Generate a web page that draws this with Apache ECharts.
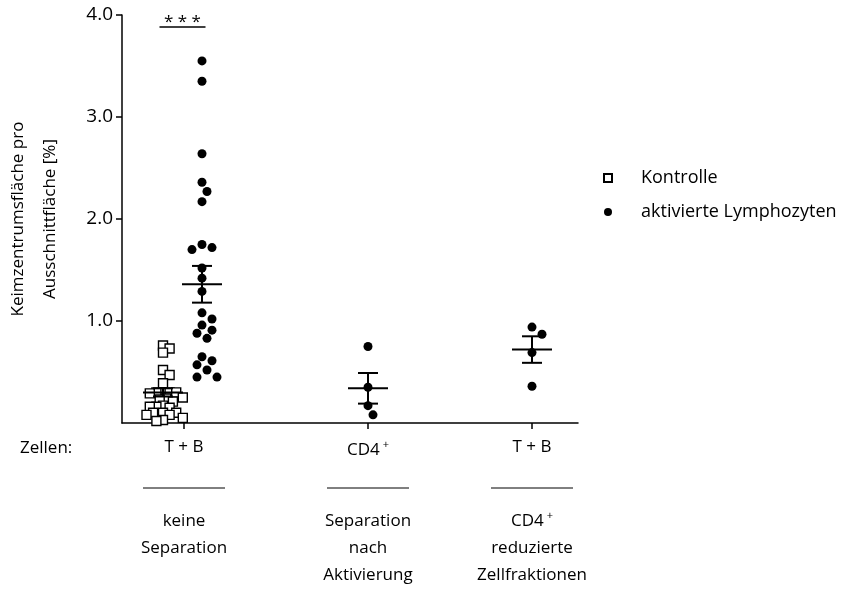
<!DOCTYPE html>
<html>
<head>
<meta charset="utf-8">
<script src="https://cdn.jsdelivr.net/npm/echarts@6/dist/echarts.min.js"></script>
<style>
  html, body { margin: 0; padding: 0; background: #fff; }
  #chart { width: 868px; height: 595px; }
</style>
</head>
<body>
<div id="chart"></div>
<script>
// Werte
const yTicks = [1, 2, 3, 4];
const groupPos = [62, 246, 410]; // Lage der Gruppen auf der x-Achse
const groupLabels = ['T + B', 'CD4+', 'T + B'];
const groupNotes = [
  ['keine', 'Separation'],
  ['Separation', 'nach', 'Aktivierung'],
  ['CD4+', 'reduzierte', 'Zellfraktionen']
];

const kontrolle = [0.76, 0.73, 0.69, 0.52, 0.47, 0.39, 0.30, 0.30, 0.30, 0.29, 0.30,
  0.24, 0.23, 0.25, 0.21, 0.16, 0.16, 0.17, 0.15, 0.10, 0.08, 0.10, 0.08, 0.10,
  0.05, 0.03, 0.02];
const aktiviertTB = [3.55, 3.35, 2.64, 2.36, 2.27, 2.17, 1.75, 1.70, 1.72, 1.52, 1.42,
  1.29, 1.08, 1.02, 0.96, 0.91, 0.88, 0.83, 0.65, 0.61, 0.57, 0.52, 0.45, 0.45];
const aktiviertCD4 = [0.75, 0.35, 0.17, 0.08];
const aktiviertRed = [0.94, 0.87, 0.69, 0.36];

// Mittelwert und SEM je Gruppe
const meanKontrolle = [0.30, 0.04];
const meanTB = [1.36, 0.18];
const meanCD4 = [0.34, 0.15];
const meanRed = [0.72, 0.13];

const font = 'Open Sans';
const yMax = 4;
const gridTop = 15, gridBottom = 172, gridLeft = 122, gridRight = 290;
const pxPerY = (595 - gridTop - gridBottom) / yMax;
const pairShift = 20;

// einfache Beeswarm-Anordnung (x-Einheiten = Pixel)
const swarm = (values, center, diam, step) => {
  let placed = [];
  let out = [];
  let order = values.map((v, i) => i).sort((a, b) => values[b] - values[a]);
  order.forEach(i => {
    let y = values[i] * pxPerY;
    for (let k = 0; k < 50; k++) {
      let off = (k % 2 ? 1 : -1) * Math.ceil(k / 2) * step;
      let ok = placed.every(p => Math.hypot(p[0] - off, p[1] - y) >= diam);
      if (ok) {
        placed.push([off, y]);
        out.push([center + off, values[i]]);
        break;
      }
    }
  });
  return out;
};

const xK = groupPos[0] - pairShift - 1;
const xA = groupPos[0] + pairShift - 2;

const kontrolleData = swarm(kontrolle, xK, 6.6, 3.3);
const aktivData = swarm(aktiviertTB, xA, 9.2, 5)
  .concat(swarm(aktiviertCD4, groupPos[1], 9.2, 5))
  .concat(swarm(aktiviertRed, groupPos[2], 9.2, 5));

const meanData = [
  [xK].concat(meanKontrolle),
  [xA].concat(meanTB),
  [groupPos[1]].concat(meanCD4),
  [groupPos[2]].concat(meanRed)
];

// nur ein "+" am Ende wird hochgestellt (CD4+)
const sup = (s) => s.replace(/\+$/, '{sup|+}');
const supStyle = { fontFamily: font, fontSize: 11, padding: [0, 0, 11, 3], color: '#000' };

let myChart = echarts.init(document.getElementById('chart'), null, { renderer: 'canvas' });

let option = {
  animation: false,
  textStyle: { fontFamily: font },
  grid: {
    top: gridTop, bottom: gridBottom, left: gridLeft, right: gridRight,
    outerBoundsMode: 'none', containLabel: false
  },
  legend: {
    data: ['Kontrolle', 'aktivierte Lymphozyten'],
    orient: 'vertical',
    left: 598,
    top: 164,
    itemGap: 16,
    itemWidth: 8,
    itemHeight: 8,
    textStyle: { fontFamily: font, fontSize: 18, color: '#000', padding: [0, 0, 0, 24] }
  },
  xAxis: {
    type: 'value',
    min: 0,
    max: 456,
    splitLine: { show: false },
    axisLine: { lineStyle: { color: '#000', width: 1.5 } },
    axisTick: { customValues: groupPos, length: 6, lineStyle: { color: '#000', width: 1.5 } },
    axisLabel: {
      customValues: groupPos,
      margin: 16,
      fontFamily: font,
      fontSize: 17,
      color: '#000',
      formatter: (v) => {
        let i = groupPos.indexOf(v);
        return i < 0 ? '' : sup(groupLabels[i]);
      },
      rich: { sup: supStyle }
    }
  },
  yAxis: {
    type: 'value',
    min: 0,
    max: yMax,
    interval: 1,
    splitLine: { show: false },
    name: 'Keimzentrumsfläche pro\nAusschnittfläche [%]',
    nameLocation: 'middle',
    nameRotate: 90,
    nameGap: 56,
    nameTextStyle: { fontFamily: font, fontSize: 17, color: '#000', lineHeight: 32 },
    axisLine: { show: true, lineStyle: { color: '#000', width: 1.5 } },
    axisTick: { customValues: yTicks, length: 6, lineStyle: { color: '#000', width: 1.5 } },
    axisLabel: {
      customValues: yTicks,
      margin: 9,
      fontFamily: font,
      fontSize: 19,
      color: '#000',
      formatter: (v) => v.toFixed(1)
    }
  },
  series: [
    {
      name: 'Kontrolle',
      type: 'scatter',
      symbol: 'rect',
      symbolSize: 9,
      itemStyle: { color: '#fff', borderColor: '#000', borderWidth: 1.4, opacity: 1 },
      data: kontrolleData,
      z: 2
    },
    {
      name: 'aktivierte Lymphozyten',
      type: 'scatter',
      symbol: 'circle',
      symbolSize: 9,
      itemStyle: { color: '#000', opacity: 1 },
      data: aktivData,
      z: 2
    },
    {
      name: 'SEM',
      type: 'custom',
      z: 5,
      data: meanData,
      renderItem: (params, api) => {
        let x = api.value(0), m = api.value(1), s = api.value(2);
        let c = api.coord([x, m]);
        let hi = api.coord([x, m + s]);
        let lo = api.coord([x, m - s]);
        let half = api.size([20, 0])[0];
        let cap = api.size([10, 0])[0];
        let st = { stroke: '#000', lineWidth: 2 };
        return {
          type: 'group',
          children: [
            { type: 'line', shape: { x1: c[0] - half, y1: c[1], x2: c[0] + half, y2: c[1] }, style: st },
            { type: 'line', shape: { x1: c[0], y1: hi[1], x2: c[0], y2: lo[1] }, style: st },
            { type: 'line', shape: { x1: c[0] - cap, y1: hi[1], x2: c[0] + cap, y2: hi[1] }, style: st },
            { type: 'line', shape: { x1: c[0] - cap, y1: lo[1], x2: c[0] + cap, y2: lo[1] }, style: st }
          ]
        };
      }
    }
  ]
};
myChart.setOption(option);

// Beschriftung unter der Achse und Signifikanzbalken
let graphics = [];
let baseY = 595 - gridBottom;
graphics.push({
  type: 'text', x: 20, y: baseY + 25,
  style: { text: 'Zellen:', fontFamily: font, fontSize: 17, fill: '#000', verticalAlign: 'middle' }
});
groupPos.forEach((g, i) => {
  let cx = myChart.convertToPixel({ xAxisIndex: 0 }, g);
  graphics.push({
    type: 'line',
    shape: { x1: cx - 41, y1: baseY + 65, x2: cx + 41, y2: baseY + 65 },
    style: { stroke: '#000', lineWidth: 1 }
  });
  groupNotes[i].forEach((t, j) => {
    graphics.push({
      type: 'text',
      x: cx, y: baseY + 98 + j * 27,
      style: {
        text: sup(t), fontFamily: font, fontSize: 17, fill: '#000',
        align: 'center', verticalAlign: 'middle',
        rich: { sup: Object.assign({}, supStyle, { fill: '#000' }) }
      }
    });
  });
});
let kx = myChart.convertToPixel({ xAxisIndex: 0 }, xK);
let ax = myChart.convertToPixel({ xAxisIndex: 0 }, xA);
let mid = (kx + ax) / 2;
graphics.push({
  type: 'line',
  shape: { x1: mid - 23, y1: 27, x2: mid + 23, y2: 27 },
  style: { stroke: '#000', lineWidth: 1.5 }
});
graphics.push({
  type: 'text', x: mid, y: 22,
  style: { text: '* * *', fontFamily: font, fontSize: 17, fill: '#000', align: 'center', verticalAlign: 'middle' }
});
myChart.setOption({ graphic: graphics });
</script>
</body>
</html>
